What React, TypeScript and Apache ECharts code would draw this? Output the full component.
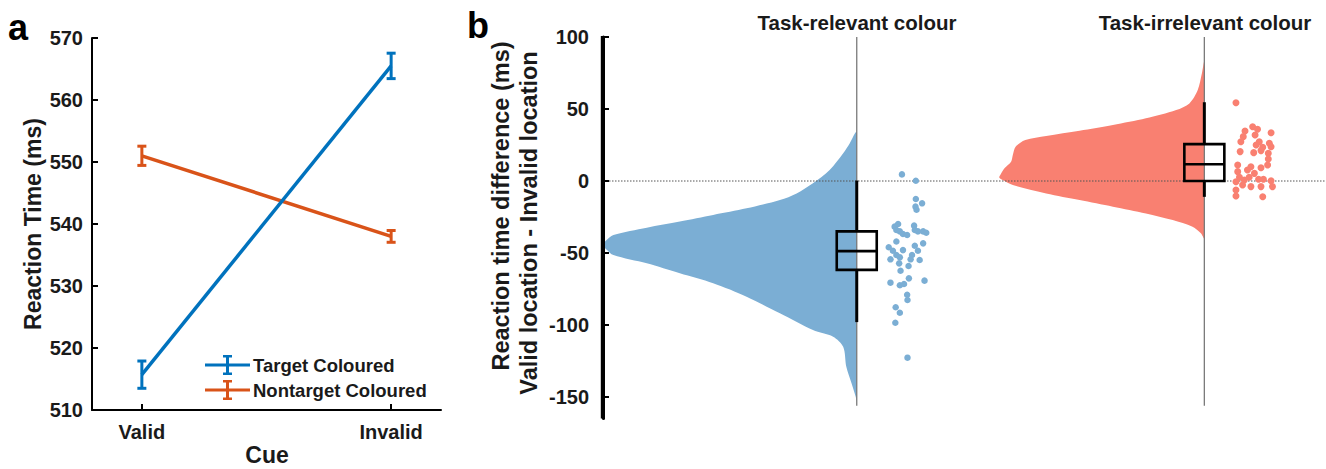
import React, { useEffect, useRef } from 'react';
import * as echarts from 'echarts';

// ---------- Panel a data ----------
const cues = ['Valid', 'Invalid'];
const targetMeans = [515.7, 565.5];
const targetErr = [2.2, 2.05];
const nontargetMeans = [551.0, 538.0];
const nontargetErr = [1.55, 0.95];

// ---------- Panel b data ----------
const conditions = ['Task-relevant colour', 'Task-irrelevant colour'];
const diffTicks = [-150, -100, -50, 0, 50, 100];

// density profile (value, half-width in axis units)
const relDensityValues = [34, 33.1, 26.2, 19.2, 7.6, -1.6, -8.6, -13.2, -19, -23.6, -28.2, -32.4, -37.5, -41.5, -44.4, -47.5, -51.4, -57.2, -64.1, -71, -80.3, -91.9, -103.5, -108.1, -115.1, -129, -140.5, -149.8, -153];
const relDensityWidths = [0, 0.005, 0.02, 0.039, 0.078, 0.126, 0.173, 0.221, 0.317, 0.413, 0.509, 0.604, 0.7, 0.722, 0.73, 0.72, 0.7, 0.604, 0.509, 0.413, 0.317, 0.221, 0.126, 0.068, 0.039, 0.03, 0.015, 0.003, 0];
const irrDensityValues = [83, 74.8, 63.2, 53.9, 49.3, 43.5, 38.9, 34.9, 31.3, 28.5, 23.8, 18.1, 13.4, 8.8, 4.2, 2.5, 0.7, -2.8, -8.6, -13.2, -17.8, -22.5, -27.1, -31.7, -36.3, -39.8];
const irrDensityWidths = [0, 0.007, 0.019, 0.043, 0.081, 0.168, 0.263, 0.359, 0.455, 0.515, 0.543, 0.551, 0.556, 0.575, 0.587, 0.59, 0.58, 0.551, 0.455, 0.359, 0.263, 0.168, 0.091, 0.034, 0.01, 0];

// box stats: q1, median, q3, lower whisker, upper whisker
const relBox = [-61.7, -48.7, -35, -98, 0.3];
const irrBox = [0, 11.6, 25.6, -11, 54.7];

// individual participants (jitter offset from condition position, value)
const relPointX = [0.13, 0.17, 0.17, 0.188, 0.169, 0.172, 0.119, 0.109, 0.114, 0.124, 0.133, 0.145, 0.165, 0.167, 0.176, 0.191, 0.2, 0.114, 0.092, 0.104, 0.133, 0.167, 0.191, 0.176, 0.114, 0.124, 0.159, 0.155, 0.097, 0.181, 0.122, 0.149, 0.126, 0.097, 0.124, 0.136, 0.15, 0.195, 0.145, 0.146, 0.112, 0.124, 0.111, 0.146];
const relPointY = [4.6, 0.2, -12.5, -15.5, -17.8, -20, -29.9, -31.7, -34, -35, -36.8, -37.5, -31, -34, -35, -35, -35.9, -42, -46, -48.4, -48, -45, -43.3, -48.4, -51.4, -53, -51.4, -54.4, -54.4, -54.9, -57.2, -59, -62.3, -70.6, -72.4, -71.5, -67.6, -69.2, -79, -82.6, -87.7, -91.5, -98.4, -122.7];
const irrPointX = [0.091, 0.139, 0.153, 0.117, 0.192, 0.112, 0.146, 0.105, 0.158, 0.149, 0.187, 0.168, 0.192, 0.103, 0.142, 0.163, 0.184, 0.184, 0.096, 0.134, 0.163, 0.182, 0.096, 0.124, 0.144, 0.101, 0.129, 0.156, 0.17, 0.192, 0.091, 0.11, 0.134, 0.163, 0.196, 0.091, 0.091, 0.168, 0.115];
const irrPointY = [54.4, 37.7, 35.9, 34.7, 33.5, 30.8, 31.9, 27.3, 27.3, 25, 26.2, 23.4, 23.8, 20.4, 19.7, 21.1, 19.2, 15.3, 11.1, 9.9, 9.2, 11.1, 6.5, 7.6, 5.3, 2.6, 2.6, 1.2, 1.2, 0.2, -0.5, -2.8, -3.9, -3.9, -3.9, -6.2, -10.4, -10.9, 0.7];

const FONT = '"Liberation Sans", Arial, Helvetica, sans-serif';
const BLUE = '#0072BD';
const ORANGE = '#D95319';
const VBLUE = '#7BAED4';
const VRED = '#F98071';
const TXT = '#1a1a1a';
const B_MIN = -165;
const B_MAX = 100;
const BX_MIN = 0.27;
const BX_MAX = 2.35;
const CENTER_TOP = 100;
const CENTER_BOTTOM = -156;

const legendIcon = 'path://M0,8.5H45V11.5H0Z M21,0H24V20H21Z M18,0H27V2.5H18Z M18,17.5H27V20H18Z';

function errorBarRender(color: string) {
  return (params: any, api: any) => {
    const x = api.value(0);
    const lo = api.coord([x, api.value(1)]);
    const hi = api.coord([x, api.value(2)]);
    const style = { stroke: color, lineWidth: 3 };
    const cap = 4.5;
    return {
      type: 'group',
      children: [
        { type: 'line', shape: { x1: lo[0], y1: lo[1], x2: hi[0], y2: hi[1] }, style },
        { type: 'line', shape: { x1: lo[0] - cap, y1: lo[1], x2: lo[0] + cap, y2: lo[1] }, style },
        { type: 'line', shape: { x1: hi[0] - cap, y1: hi[1], x2: hi[0] + cap, y2: hi[1] }, style },
      ],
    };
  };
}

function violinRender(values: number[], widths: number[], color: string) {
  return (params: any, api: any) => {
    const c = api.value(0);
    const points = values.map((v, i) => api.coord([c - widths[i], v]));
    return { type: 'polygon', shape: { points, smooth: 0.3 }, style: { fill: color } };
  };
}

const boxRender = (params: any, api: any) => {
  const c = api.value(0);
  const pq1 = api.coord([c, api.value(1)]);
  const pmed = api.coord([c, api.value(2)]);
  const pq3 = api.coord([c, api.value(3)]);
  const plo = api.coord([c, api.value(4)]);
  const phi = api.coord([c, api.value(5)]);
  const hw = 20;
  const boxStyle = { stroke: '#000', lineWidth: 2.6, fill: 'none' };
  const wStyle = { stroke: '#000', lineWidth: 3 };
  return {
    type: 'group',
    children: [
      { type: 'line', shape: { x1: pq3[0], y1: pq3[1], x2: phi[0], y2: phi[1] }, style: wStyle },
      { type: 'line', shape: { x1: pq1[0], y1: pq1[1], x2: plo[0], y2: plo[1] }, style: wStyle },
      { type: 'rect', shape: { x: pq3[0] - hw, y: pq3[1], width: hw * 2, height: pq1[1] - pq3[1] }, style: boxStyle },
      { type: 'line', shape: { x1: pmed[0] - hw, y1: pmed[1], x2: pmed[0] + hw, y2: pmed[1] }, style: { stroke: '#000', lineWidth: 2.6 } },
    ],
  };
};

// gray centre lines + dotted zero reference line
const guideRender = (params: any, api: any) => {
  const c = api.value(0);
  const top = api.coord([c, CENTER_TOP]);
  const bot = api.coord([c, CENTER_BOTTOM]);
  const children: any[] = [
    { type: 'line', shape: { x1: top[0], y1: top[1], x2: bot[0], y2: bot[1] }, style: { stroke: '#7a7a7a', lineWidth: 1.3 } },
  ];
  if (params.dataIndex === 0) {
    const l = api.coord([BX_MIN, 0]);
    const r = api.coord([BX_MAX, 0]);
    children.push({ type: 'line', shape: { x1: l[0], y1: l[1], x2: r[0], y2: r[1] }, style: { stroke: '#555', lineWidth: 1, lineDash: [1.5, 1.5] } });
  }
  return { type: 'group', children };
};

// axis line + inward ticks of panel b, placed through the axis scales
const axisBRender = (params: any, api: any) => {
  const v = api.value(1);
  const p = api.coord([BX_MIN, v]);
  const children: any[] = [
    { type: 'rect', shape: { x: p[0] - 2, y: p[1] - 1, width: 8, height: 2 }, style: { fill: '#000' } },
  ];
  if (params.dataIndex === 0) {
    const top = api.coord([BX_MIN, B_MAX]);
    const bot = api.coord([BX_MIN, B_MIN]);
    children.push({ type: 'rect', shape: { x: top[0] - 2.2, y: top[1] - 1, width: 3.2, height: bot[1] - top[1] + 1 }, style: { fill: '#000' } });
  }
  return { type: 'group', children };
};

export default function App() {
  const ref = useRef<HTMLDivElement>(null);
  useEffect(() => {
    document.body.style.margin = '0';
    if (!ref.current) return;
    const chart = echarts.init(ref.current, null, { renderer: 'svg' });
    const tickLabel = { fontSize: 20, fontWeight: 'bold' as const, color: TXT, fontFamily: FONT };
    const tick = { show: true, inside: true, length: 6, lineStyle: { color: '#000', width: 2 } };
    const option: any = {
      animation: false,
      backgroundColor: '#fff',
      grid: [
        { left: 92, top: 38, width: 349, height: 372 },
        { left: 603, top: 37, width: 723, height: 381.6 },
      ],
      legend: {
        data: [
          { name: 'Target Coloured', icon: legendIcon },
          { name: 'Nontarget Coloured', icon: legendIcon },
        ],
        orient: 'vertical',
        left: 200,
        top: 350,
        itemWidth: 45,
        itemHeight: 20,
        itemGap: 5,
        selectedMode: false,
        textStyle: { fontSize: 18.5, fontWeight: 'bold', color: TXT, fontFamily: FONT, padding: [0, 0, 0, -2] },
      },
      xAxis: [
        {
          gridIndex: 0,
          type: 'value',
          min: -0.2,
          max: 1.2,
          splitNumber: 1,
          z: 10,
          axisLine: { show: true, onZero: false, lineStyle: { color: '#000', width: 2 } },
          axisTick: tick,
          axisLabel: {
            ...tickLabel,
            margin: 12,
            showMinLabel: false,
            showMaxLabel: false,
            formatter: (v: number) => {
              const r = Math.round(v * 1000) / 1000;
              return r === 0 ? cues[0] : r === 1 ? cues[1] : '';
            },
          },
          splitLine: { show: false },
        },
        {
          gridIndex: 1,
          type: 'value',
          min: BX_MIN,
          max: BX_MAX,
          axisLine: { show: false, onZero: false },
          axisTick: { show: false },
          axisLabel: { show: false },
          splitLine: { show: false },
        },
      ],
      yAxis: [
        {
          gridIndex: 0,
          type: 'value',
          min: 510,
          max: 570,
          interval: 10,
          z: 10,
          axisLine: { show: true, onZero: false, lineStyle: { color: '#000', width: 2 } },
          axisTick: tick,
          axisLabel: { ...tickLabel, margin: 9 },
          splitLine: { show: false },
        },
        {
          gridIndex: 1,
          type: 'value',
          min: B_MIN,
          max: B_MAX,
          splitNumber: 5,
          z: 10,
          axisLine: { show: true, onZero: false, lineStyle: { color: '#000', width: 3 } },
          axisTick: { show: false },
          axisLabel: { ...tickLabel, margin: 14, showMinLabel: false },
          splitLine: { show: false },
        },
      ],
      graphic: [
        { type: 'text', x: 8, y: 27, style: { text: 'a', fontSize: 36, fontWeight: 'bold', fontFamily: FONT, fill: '#000', verticalAlign: 'middle' } },
        { type: 'text', x: 467, y: 25, style: { text: 'b', fontSize: 36, fontWeight: 'bold', fontFamily: FONT, fill: '#000', verticalAlign: 'middle' } },
        { type: 'text', x: 33, y: 224, rotation: Math.PI / 2, style: { text: 'Reaction Time (ms)', fontSize: 23, fontWeight: 'bold', fontFamily: FONT, fill: TXT, align: 'center', verticalAlign: 'middle' } },
        { type: 'text', x: 267, y: 455, style: { text: 'Cue', fontSize: 23, fontWeight: 'bold', fontFamily: FONT, fill: TXT, align: 'center', verticalAlign: 'middle' } },
        { type: 'text', x: 501, y: 206, rotation: Math.PI / 2, style: { text: 'Reaction time difference (ms)', fontSize: 23.5, fontWeight: 'bold', fontFamily: FONT, fill: TXT, align: 'center', verticalAlign: 'middle' } },
        { type: 'text', x: 529, y: 223, rotation: Math.PI / 2, style: { text: 'Valid location - Invalid location', fontSize: 23.5, fontWeight: 'bold', fontFamily: FONT, fill: TXT, align: 'center', verticalAlign: 'middle' } },
        { type: 'text', x: 857, y: 22, style: { text: conditions[0], fontSize: 20.5, fontWeight: 'bold', fontFamily: FONT, fill: TXT, align: 'center', verticalAlign: 'middle' } },
        { type: 'text', x: 1205, y: 22, style: { text: conditions[1], fontSize: 20.5, fontWeight: 'bold', fontFamily: FONT, fill: TXT, align: 'center', verticalAlign: 'middle' } },
      ],
      series: [
        {
          name: 'Target Coloured',
          type: 'line',
          xAxisIndex: 0,
          yAxisIndex: 0,
          data: cues.map((_, i) => [i, targetMeans[i]]),
          symbol: 'none',
          color: BLUE,
          lineStyle: { color: BLUE, width: 3.5 },
          z: 3,
        },
        {
          name: 'Nontarget Coloured',
          type: 'line',
          xAxisIndex: 0,
          yAxisIndex: 0,
          data: cues.map((_, i) => [i, nontargetMeans[i]]),
          symbol: 'none',
          color: ORANGE,
          lineStyle: { color: ORANGE, width: 3.5 },
          z: 2,
        },
        {
          name: 'errTarget',
          type: 'custom',
          xAxisIndex: 0,
          yAxisIndex: 0,
          data: cues.map((_, i) => [i, targetMeans[i] - targetErr[i], targetMeans[i] + targetErr[i]]),
          renderItem: errorBarRender(BLUE),
          z: 4,
        },
        {
          name: 'errNontarget',
          type: 'custom',
          xAxisIndex: 0,
          yAxisIndex: 0,
          data: cues.map((_, i) => [i, nontargetMeans[i] - nontargetErr[i], nontargetMeans[i] + nontargetErr[i]]),
          renderItem: errorBarRender(ORANGE),
          z: 4,
        },
        {
          name: 'violinRel',
          type: 'custom',
          xAxisIndex: 1,
          yAxisIndex: 1,
          data: [[1, 0]],
          renderItem: violinRender(relDensityValues, relDensityWidths, VBLUE),
          z: 1,
        },
        {
          name: 'violinIrr',
          type: 'custom',
          xAxisIndex: 1,
          yAxisIndex: 1,
          data: [[2, 0]],
          renderItem: violinRender(irrDensityValues, irrDensityWidths, VRED),
          z: 1,
        },
        {
          name: 'guides',
          type: 'custom',
          xAxisIndex: 1,
          yAxisIndex: 1,
          clip: false,
          data: [[1, 0], [2, 0]],
          renderItem: guideRender,
          z: 3,
        },
        {
          name: 'boxes',
          type: 'custom',
          xAxisIndex: 1,
          yAxisIndex: 1,
          data: [[1, ...relBox], [2, ...irrBox]],
          renderItem: boxRender,
          z: 5,
        },
        {
          name: 'ptsRel',
          type: 'scatter',
          xAxisIndex: 1,
          yAxisIndex: 1,
          data: relPointX.map((dx, i) => [1 + dx, relPointY[i]]),
          symbolSize: 6.5,
          itemStyle: { color: VBLUE, opacity: 1 },
          z: 5,
        },
        {
          name: 'ptsIrr',
          type: 'scatter',
          xAxisIndex: 1,
          yAxisIndex: 1,
          data: irrPointX.map((dx, i) => [2 + dx, irrPointY[i]]),
          symbolSize: 7,
          itemStyle: { color: VRED, opacity: 1 },
          z: 5,
        },
        {
          name: 'axisB',
          type: 'custom',
          xAxisIndex: 1,
          yAxisIndex: 1,
          clip: false,
          data: diffTicks.map((v) => [BX_MIN, v]),
          renderItem: axisBRender,
          z: 20,
        },
      ],
    };
    chart.setOption(option);
    return () => chart.dispose();
  }, []);
  return <div ref={ref} style={{ position: 'fixed', left: 0, top: 0, width: 1326, height: 469, background: '#fff' }} />;
}
